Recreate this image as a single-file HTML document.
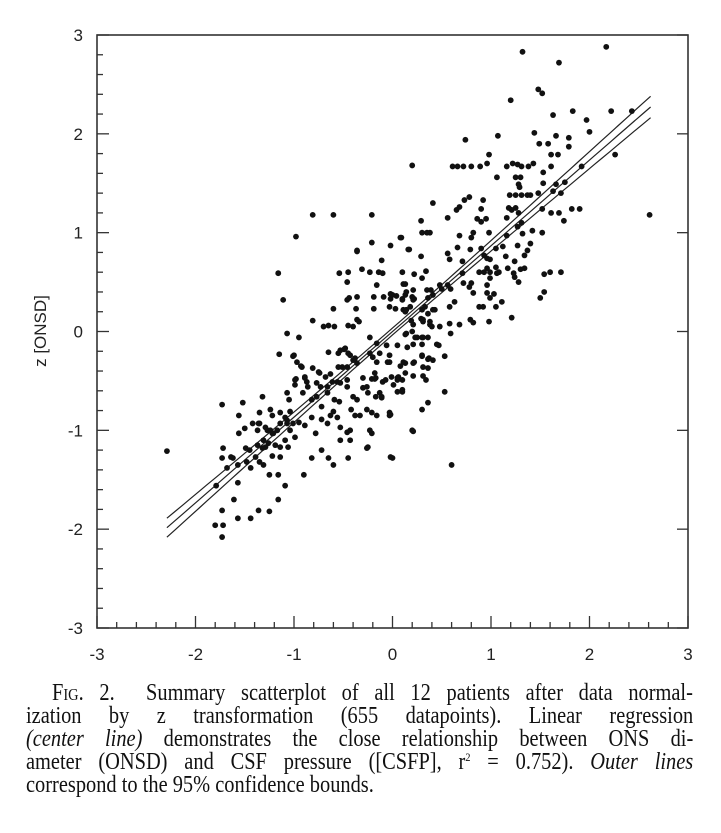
<!DOCTYPE html>
<html><head><meta charset="utf-8"><style>
html,body{margin:0;padding:0;background:#fff;width:721px;height:833px;overflow:hidden}
svg{position:absolute;left:0;top:0}
.cap{position:absolute;font-family:"Liberation Serif",serif;font-size:24px;color:#111;line-height:23px;white-space:nowrap;transform-origin:0 0;transform:scaleX(0.85)}
.j{text-align:justify;text-align-last:justify}
sup{font-size:12px;line-height:0;vertical-align:8px}
</style></head><body>
<svg id="chart" width="721" height="680"></svg>
<div class="cap j" style="left:52px;top:682px;width:754px"><span style="font-variant:small-caps">Fig.</span> 2.&nbsp; Summary scatterplot of all 12 patients after data normal-</div>
<div class="cap j" style="left:26px;top:705px;width:785px">ization by z transformation (655 datapoints). Linear regression</div>
<div class="cap j" style="left:26px;top:728px;width:785px"><i>(center line)</i> demonstrates the close relationship between ONS di-</div>
<div class="cap j" style="left:26px;top:751px;width:785px">ameter (ONSD) and CSF pressure ([CSFP], r<sup>2</sup> = 0.752). <i>Outer lines</i></div>
<div class="cap" style="left:26px;top:774px">correspond to the 95% confidence bounds.</div>
<script>
const xTicks=[-3,-2,-1,0,1,2,3];
const yTicks=[-3,-2,-1,0,1,2,3];
const regSlope=0.867, regIntercept=0.0, regXmin=-2.29, regXmax=2.62;
const ciW0=0.035, ciK=0.00153;
const px=[1.32,1.69,2.17,1.48,1.52,1.20,1.63,1.83,1.97,2.00,2.22,2.43,2.26,2.61,1.07,0.74,0.20,1.44,1.49,1.58,1.66,1.79,1.79,1.61,1.68,0.98,0.61,0.66,0.72,0.80,0.89,0.96,1.16,1.22,1.27,1.31,1.38,1.43,1.53,1.61,1.92,1.06,1.25,1.30,1.28,1.29,1.53,1.66,1.75,1.19,1.25,1.31,1.37,1.40,1.48,1.63,1.71,0.41,0.78,0.73,0.92,0.68,0.65,0.90,1.18,1.21,1.25,1.28,1.52,1.61,1.69,1.74,1.82,1.90,0.56,0.86,0.90,0.95,1.16,0.29,0.30,0.35,0.38,0.68,0.82,0.80,0.98,1.27,1.31,1.42,1.52,1.16,0.09,0.17,0.29,0.56,0.58,0.66,0.71,0.79,0.90,0.93,0.96,0.99,1.05,1.12,1.15,1.24,1.27,1.34,1.37,1.40,1.32,0.10,0.22,0.30,0.34,0.11,0.13,0.04,0.10,0.13,0.21,0.22,0.35,0.39,0.41,0.36,0.48,0.50,0.56,0.59,0.71,0.72,0.80,0.78,0.88,0.93,0.99,0.96,0.99,0.96,0.96,1.05,1.06,1.08,1.17,1.23,1.24,1.28,1.30,1.34,1.54,1.60,1.71,1.54,1.50,0.82,0.88,0.92,0.99,1.03,1.05,0.58,0.63,1.11,1.21,0.98,0.79,0.82,0.68,0.58,0.59,0.48,0.38,0.40,0.31,0.29,0.21,0.20,0.25,0.30,0.14,-0.03,0.11,0.18,0.30,0.36,0.43,
-0.81,-0.60,-0.21,-0.98,-0.21,0.08,-0.36,-0.02,0.16,-0.11,-1.16,-0.54,-0.45,-0.31,-0.23,-0.14,-0.10,-0.46,-0.16,-1.11,-0.46,-0.44,-0.36,-0.19,-0.02,-0.02,0.13,-0.60,-0.37,-0.19,0.03,-0.81,-0.70,-0.65,-0.59,-0.45,-0.40,-0.36,-0.34,-1.07,-0.95,-0.23,0.13,
-1.15,-1.01,-0.97,-0.92,-0.81,-0.65,-0.53,-0.48,-0.55,-0.51,-0.46,-0.40,-0.36,-0.74,-0.68,-0.63,-0.89,-0.87,-0.98,-0.99,-1.07,-1.05,-1.32,-1.52,-0.91,-0.86,-0.82,-0.77,-0.77,-0.73,-0.66,-0.61,-0.56,-0.53,-0.66,-0.59,-0.54,-0.46,-0.46,-0.42,-0.38,-0.26,-0.21,-0.16,-0.40,-0.36,-0.26,-0.25,-0.13,-0.11,-0.30,-0.21,-0.18,-0.10,-0.01,0.06,0.01,0.10,-0.03,0.08,0.13,0.21,0.31,0.21,0.31,0.30,0.37,0.41,0.34,0.20,0.30,0.36,-0.25,-0.23,-0.21,-0.53,-0.46,-0.43,-0.72,-0.63,-0.60,-0.78,-0.95,-1.01,-1.07,-1.14,-1.09,-1.04,-1.24,-1.22,-1.35,-1.35,-1.42,-1.37,-1.27,-1.22,-1.17,-1.50,-1.31,-1.26,-1.04,-0.99,-0.89,-0.82,-0.72,-0.53,-0.43,-0.56,-0.66,
-0.36,-0.09,0.00,0.10,0.14,0.20,0.21,0.14,0.19,0.33,0.41,0.31,0.38,0.36,0.21,0.30,0.45,0.05,-0.06,-0.16,-0.13,-0.03,-0.23,-0.20,-0.43,-0.38,
-2.29,-1.73,-1.56,-1.56,-1.72,-1.73,-1.64,-1.62,-1.68,-1.57,-1.48,-1.49,-1.45,-1.44,-1.79,-1.57,-1.61,-1.73,-1.80,-1.72,-1.73,-1.57,-1.44,-1.36,-1.25,-1.16,-1.09,-1.25,-1.16,-1.29,-1.36,-1.37,-1.32,-1.29,-1.39,-1.35,-1.31,-1.22,-1.14,-1.19,-1.14,-1.09,-1.06,-1.24,-1.21,-1.14,-1.07,-1.00,-0.93,-0.99,-0.89,-0.75,-0.55,-0.45,-0.49,-0.90,-0.82,-0.72,-0.65,-0.60,-0.45,-0.26,-0.02,-0.03,-0.17,-0.11,-0.30,0.11,0.13,0.05,0.10,0.05,-0.07,-0.05,-0.16,-0.18,-0.17,-0.33,
0.31,0.23,0.15,0.47,0.30,0.36,0.53,0.22,0.36,-0.03,0.05,0.10,0.53,-0.02,0.21,0.00,0.60];
const py=[2.83,2.72,2.88,2.45,2.41,2.34,2.19,2.23,2.14,2.02,2.23,2.23,1.79,1.18,1.98,1.94,1.68,2.01,1.90,1.90,1.98,1.96,1.87,1.79,1.79,1.79,1.67,1.67,1.67,1.67,1.67,1.70,1.67,1.70,1.69,1.67,1.67,1.70,1.61,1.67,1.67,1.56,1.56,1.56,1.49,1.46,1.50,1.49,1.51,1.38,1.38,1.38,1.38,1.38,1.40,1.42,1.40,1.30,1.36,1.33,1.33,1.26,1.23,1.24,1.25,1.23,1.25,1.20,1.24,1.20,1.20,1.12,1.24,1.24,1.15,1.14,1.11,1.14,1.15,1.12,1.00,1.00,1.00,0.97,1.00,0.95,1.00,1.06,1.10,1.02,1.00,0.97,0.95,0.83,0.76,0.79,0.73,0.85,0.71,0.83,0.84,0.77,0.74,0.73,0.84,0.86,0.76,0.71,0.87,0.77,0.82,0.89,0.99,0.60,0.58,0.54,0.61,0.48,0.48,0.36,0.33,0.37,0.42,0.33,0.42,0.42,0.37,0.34,0.47,0.43,0.47,0.43,0.59,0.49,0.49,0.45,0.60,0.60,0.60,0.64,0.54,0.47,0.39,0.65,0.59,0.60,0.64,0.59,0.55,0.50,0.63,0.64,0.58,0.60,0.60,0.40,0.34,0.39,0.25,0.25,0.34,0.38,0.25,0.25,0.30,0.30,0.14,0.10,0.12,0.09,0.07,0.08,-0.02,0.05,0.07,0.05,0.10,0.13,0.07,0.00,-0.06,-0.06,-0.02,0.25,0.22,0.25,0.22,0.18,0.22,
1.18,1.18,1.18,0.96,0.90,0.95,0.82,0.87,0.83,0.72,0.59,0.59,0.60,0.63,0.60,0.60,0.59,0.50,0.47,0.32,0.32,0.34,0.35,0.35,0.38,0.33,0.20,0.23,0.23,0.23,0.23,0.11,0.05,0.06,0.05,0.06,0.05,0.12,0.10,-0.02,-0.06,-0.06,-0.03,
-0.23,-0.25,-0.31,-0.36,-0.37,-0.21,-0.19,-0.17,-0.36,-0.36,-0.36,-0.29,-0.32,-0.42,-0.46,-0.43,-0.46,-0.51,-0.48,-0.54,-0.62,-0.69,-0.66,-0.72,-0.62,-0.56,-0.69,-0.66,-0.52,-0.56,-0.56,-0.51,-0.51,-0.52,-0.62,-0.69,-0.71,-0.49,-0.56,-0.79,-0.85,-0.79,-0.82,-0.85,-0.66,-0.69,-0.56,-0.62,-0.62,-0.66,-0.47,-0.48,-0.48,-0.51,-0.46,-0.46,-0.54,-0.59,-0.82,-0.35,-0.32,-0.32,-0.36,-0.45,-0.45,-0.24,-0.27,-0.29,-0.49,-1.00,-0.79,-0.72,-1.17,-1.00,-1.03,-0.97,-1.02,-1.00,-0.76,-0.85,-0.81,-1.03,-0.92,-0.93,-0.93,-0.82,-0.87,-0.81,-0.79,-0.85,-0.82,-0.93,-0.93,-1.00,-1.00,-1.03,-1.00,-0.98,-1.10,-1.13,-1.00,-1.07,-0.95,-0.87,-0.89,-1.10,-1.10,-0.87,-0.93,
0.81,0.35,0.37,0.32,0.40,0.35,0.32,0.22,0.11,0.25,0.22,0.12,0.10,-0.06,-0.13,-0.13,-0.13,-0.14,-0.14,-0.12,-0.22,-0.24,-0.22,-0.26,-0.24,-0.27,
-1.21,-0.74,-0.85,-1.03,-1.18,-1.28,-1.27,-1.28,-1.38,-1.35,-1.32,-1.18,-1.20,-1.38,-1.56,-1.53,-1.70,-1.81,-1.96,-1.96,-2.08,-1.89,-1.89,-1.81,-1.82,-1.70,-1.56,-1.45,-1.45,-0.97,-0.93,-1.15,-1.18,-1.17,-1.27,-1.32,-1.35,-1.26,-1.27,-1.15,-1.17,-1.10,-1.17,-1.00,-1.03,-0.93,-0.90,-0.24,-0.35,-0.49,-0.47,-0.41,-0.22,-0.22,-0.18,-1.45,-1.28,-1.20,-1.28,-1.35,-1.28,-1.18,-1.27,-0.85,-0.66,-0.67,-0.57,-0.31,-0.42,-0.47,-0.61,-0.61,-0.49,-0.31,-0.31,-0.42,-0.47,-0.85,
-0.06,-0.06,-0.16,-0.14,-0.25,-0.28,-0.25,-0.31,-0.37,-0.31,-0.49,-0.49,-0.61,-0.84,-1.01,-1.28,-1.35];

const NS='http://www.w3.org/2000/svg';
const svg=document.getElementById('chart');
const L=97,R=688,T=35,B=628;
const sx=v=>L+(v+3)/6*(R-L);
const sy=v=>B-(v+3)/6*(B-T);
function mk(tag,attrs,parent){const e=document.createElementNS(NS,tag);for(const k in attrs)e.setAttribute(k,attrs[k]);(parent||svg).appendChild(e);return e;}

const frame=mk('rect',{x:L,y:T,width:R-L,height:B-T,fill:'none',stroke:'#333','stroke-width':1.6});



const ticks=mk('g',{stroke:'#333','stroke-width':1.3});


for(let i=0;i<=30;i++){
  const v=-3+i*0.2, major=(i%5===0);
  const len=major?12:6;
  mk('line',{x1:sx(v),x2:sx(v),y1:B,y2:B-len},ticks);
  mk('line',{x1:L,x2:L+len,y1:sy(v),y2:sy(v)},ticks);
}
yTicks.forEach(v=>mk('line',{x1:R,x2:R-11,y1:sy(v),y2:sy(v)},ticks));

xTicks.forEach(v=>{
  const t=mk('text',{x:sx(v),y:660,'text-anchor':'middle','font-family':'Liberation Sans, sans-serif','font-size':17,fill:'#222'});
  t.textContent=String(v);
  
  
});
yTicks.forEach(v=>{
  const t=mk('text',{x:83,y:sy(v)+6,'text-anchor':'end','font-family':'Liberation Sans, sans-serif','font-size':17,fill:'#222'});
  t.textContent=String(v);
  
  
});
const yt=mk('text',{x:0,y:0,transform:'translate(46,331) rotate(-90)','text-anchor':'middle','font-family':'Liberation Sans, sans-serif','font-size':17,fill:'#222'});
yt.textContent='z [ONSD]';



function line(off,name){
  let d='';
  for(let i=0;i<=60;i++){
    const x=regXmin+(regXmax-regXmin)*i/60;
    const w=Math.sqrt(ciW0*ciW0+ciK*x*x);
    const y=regIntercept+regSlope*x+off*w;
    d+=(i?'L':'M')+sx(x).toFixed(1)+','+sy(y).toFixed(1);
  }
  const p=mk('path',{d:d,fill:'none',stroke:'#222','stroke-width':1.2});
  
  
}
line(1,'upper-confidence-bound');
line(0,'regression-line');
line(-1,'lower-confidence-bound');

const pts=mk('g',{fill:'#111'});


for(let i=0;i<Math.min(px.length,py.length);i++){
  const c=mk('circle',{cx:sx(px[i]),cy:sy(py[i]),r:2.9},pts);
  
  
}
</script>
</body></html>
